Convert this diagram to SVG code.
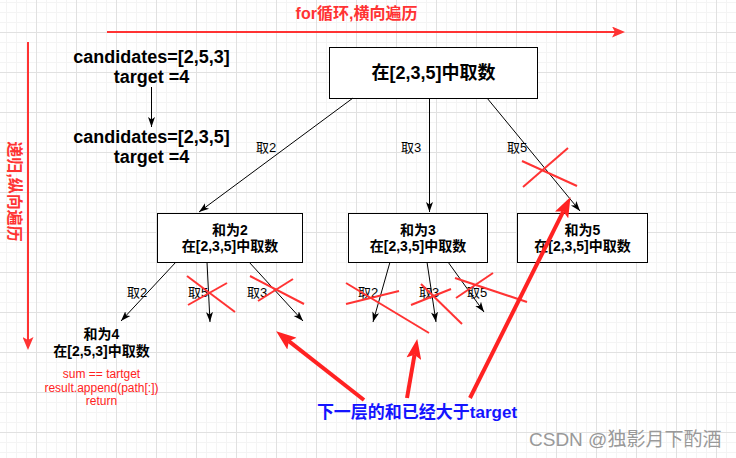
<svg xmlns="http://www.w3.org/2000/svg" width="736" height="458" viewBox="0 0 736 458">
<defs>
<style>
.box{fill:#fff;stroke:#000;stroke-width:1}
.t{font-family:"Liberation Sans","Noto Sans CJK SC",Arial,sans-serif}
.b{font-weight:bold}
.c{text-anchor:middle}
.edge{fill:none;stroke:#000;stroke-width:1;marker-end:url(#ah)}
.x{stroke:#f33;stroke-width:2;fill:none}
.axis{stroke:#f33;stroke-width:2;fill:none;marker-end:url(#ar)}
.big{stroke:#f22;stroke-width:4;fill:none;marker-end:url(#ab)}
</style>
<pattern id="gmin" width="10" height="10" patternUnits="userSpaceOnUse" x="6" y="2">
<path d="M0,0.5H10M0.5,0V10" stroke="#f4f4f4" stroke-width="1" fill="none"/>
</pattern>
<pattern id="gmaj" width="40" height="40" patternUnits="userSpaceOnUse" x="36" y="32">
<path d="M0,0.5H40M0.5,0V40" stroke="#e1e1e1" stroke-width="1" fill="none"/>
</pattern>
<marker id="ah" markerUnits="userSpaceOnUse" viewBox="0 0 10 10" refX="10" refY="5" markerWidth="10" markerHeight="10" orient="auto">
<path d="M0,1.5L10,5L0,8.5L2.5,5z" fill="#000"/>
</marker>
<marker id="ar" markerUnits="userSpaceOnUse" viewBox="0 0 13 11" refX="3" refY="5.5" markerWidth="13" markerHeight="11" orient="auto">
<path d="M0,0L13,5.5L0,11L3,5.5z" fill="#f33"/>
</marker>
<marker id="ab" markerUnits="userSpaceOnUse" viewBox="0 0 20 15" refX="4" refY="7.5" markerWidth="20" markerHeight="15" orient="auto">
<path d="M0,0L20,7.5L0,15L4,7.5z" fill="#f22"/>
</marker>
</defs>
<rect width="736" height="458" fill="#fff"/>
<rect width="736" height="458" fill="url(#gmin)"/>
<rect width="736" height="458" fill="url(#gmaj)"/>

<g id="axes">
<text class="t b c" x="356.5" y="19" font-size="16" fill="#f33">for循环,横向遍历</text>
<line class="axis" x1="107" y1="32" x2="615" y2="32"/>
<line class="axis" x1="28" y1="42" x2="28" y2="340"/>
<text class="t b c" transform="translate(15,191.5) rotate(90)" x="0" y="6" font-size="16" fill="#f33">递归,纵向遍历</text>
</g>

<g id="n-input1">
<text class="t b c" x="151.5" y="63" font-size="18">candidates=[2,5,3]</text>
<text class="t b c" x="151.5" y="83" font-size="18">target =4</text>
</g>
<g id="n-input2">
<text class="t b c" x="151.5" y="143" font-size="18">candidates=[2,3,5]</text>
<text class="t b c" x="151.5" y="163" font-size="18">target =4</text>
</g>

<g id="n-root">
<rect class="box" x="329.5" y="47.5" width="208" height="51"/>
<text class="t b c" x="433.5" y="79" font-size="18">在[2,3,5]中取数</text>
</g>

<g id="n-sum2">
<rect class="box" x="157.5" y="213.5" width="145" height="49"/>
<text class="t b c" x="230" y="235" font-size="14">和为2</text>
<text class="t b c" x="230" y="251" font-size="14">在[2,3,5]中取数</text>
</g>
<g id="n-sum3">
<rect class="box" x="348.5" y="213.5" width="139" height="49"/>
<text class="t b c" x="418" y="235" font-size="14">和为3</text>
<text class="t b c" x="418" y="251" font-size="14">在[2,3,5]中取数</text>
</g>
<g id="n-sum5">
<rect class="box" x="517.5" y="213.5" width="130" height="49"/>
<text class="t b c" x="582.5" y="235" font-size="14">和为5</text>
<text class="t b c" x="582.5" y="251" font-size="14">在[2,3,5]中取数</text>
</g>

<g id="n-sum4">
<text class="t b c" x="101.5" y="339" font-size="14">和为4</text>
<text class="t b c" x="101.5" y="356" font-size="14">在[2,5,3]中取数</text>
<text class="t c" x="101.5" y="378" font-size="12" fill="#f22">sum == tartget</text>
<text class="t c" x="101.5" y="391.5" font-size="12" fill="#f22">result.append(path[:])</text>
<text class="t c" x="101.5" y="405" font-size="12" fill="#f22">return</text>
</g>

<g id="connectors">
<line class="edge" x1="151.5" y1="87" x2="151.5" y2="127"/>
<line class="edge" x1="353" y1="98" x2="199" y2="212"/>
<line class="edge" x1="429.5" y1="98" x2="429.5" y2="212"/>
<line class="edge" x1="487" y1="98" x2="580" y2="211"/>
<line class="edge" x1="176" y1="262" x2="121" y2="321"/>
<line class="edge" x1="207" y1="262" x2="210" y2="322"/>
<line class="edge" x1="249" y1="262" x2="303" y2="321"/>
<line class="edge" x1="390" y1="262" x2="373" y2="322"/>
<line class="edge" x1="427" y1="262" x2="436" y2="322"/>
<line class="edge" x1="448" y1="262" x2="484" y2="312"/>
</g>

<g id="edge-labels" class="t" font-size="13">
<text x="256" y="152">取2</text>
<text x="401" y="152">取3</text>
<text x="507" y="152">取5</text>
<text x="127" y="297">取2</text>
<text x="188" y="297">取5</text>
<text x="247" y="297">取3</text>
<text x="358" y="297">取2</text>
<text x="419" y="297">取3</text>
<text x="467" y="297">取5</text>
</g>

<g id="crosses">
<line class="x" x1="522" y1="161" x2="577" y2="186"/>
<line class="x" x1="523" y1="187" x2="568" y2="148"/>
<line class="x" x1="187" y1="276" x2="235" y2="312"/>
<line class="x" x1="188" y1="305" x2="227" y2="283"/>
<line class="x" x1="250" y1="276" x2="304" y2="304"/>
<line class="x" x1="258" y1="301" x2="293" y2="279"/>
<line class="x" x1="346" y1="283" x2="429" y2="333"/>
<line class="x" x1="346" y1="304" x2="399" y2="291"/>
<line class="x" x1="421" y1="284" x2="462" y2="324"/>
<line class="x" x1="411" y1="305" x2="451" y2="289"/>
<line class="x" x1="455" y1="278" x2="527" y2="302"/>
<line class="x" x1="456" y1="298" x2="493" y2="273"/>
</g>

<g id="callout">
<line class="big" x1="364" y1="400" x2="288.8" y2="341.2"/>
<line class="big" x1="407" y1="398" x2="414.5" y2="354.8"/>
<line class="big" x1="470" y1="398" x2="563.3" y2="211.4"/>
<text class="t b c" x="417" y="418" font-size="17" fill="#1414ff">下一层的和已经大于target</text>
</g>

<g id="watermark">
<text class="t" x="529" y="446" font-size="19" fill="#999">CSDN @独影月下酌酒</text>
</g>
</svg>
